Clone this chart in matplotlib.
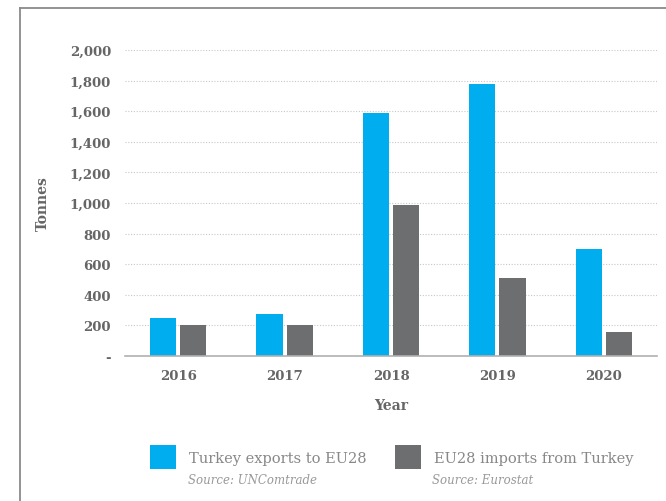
import numpy as np
import matplotlib
matplotlib.use('Agg')
import matplotlib.pyplot as plt
from matplotlib.lines import Line2D
from matplotlib.ticker import FuncFormatter

# Data
years = ['2016', '2017', '2018', '2019', '2020']
turkey_exports = [248, 275, 1590, 1780, 700]
eu_imports = [203, 203, 985, 510, 158]
series_names = ['Turkey exports to EU28', 'EU28 imports from Turkey']
sources = ['Source: UNComtrade', 'Source: Eurostat']

blue = '#00AEEF'
grey = '#6D6E70'
txt = '#666666'

plt.rcParams['font.family'] = ['DejaVu Serif']

fig = plt.figure(figsize=(6.66, 5.02), dpi=100)
ax = fig.add_axes([125/666, 1-357/502, 532/666, 306/502])

x = np.arange(len(years))
w = 0.245
b1 = ax.bar(x - 0.142, turkey_exports, w, color=blue)
b2 = ax.bar(x + 0.142, eu_imports, w, color=grey)

ax.set_xlim(-0.5, 4.5)
ax.set_ylim(0, 2000)
ax.set_yticks(range(0, 2001, 200))
ax.yaxis.set_major_formatter(FuncFormatter(lambda v, p: '-' if v == 0 else f'{int(v):,}'))
ax.set_xticks(x)
ax.set_xticklabels(years)
ax.grid(axis='y', linestyle=(0, (1, 1.5)), color='#c8c8c8', linewidth=0.8)
ax.set_axisbelow(True)
for s in ['top', 'right', 'left']:
    ax.spines[s].set_visible(False)
ax.spines['bottom'].set_color('#b0b0b0')
ax.spines['bottom'].set_linewidth(1.2)
ax.tick_params(axis='both', length=0, colors=txt, labelsize=9.5)
ax.tick_params(axis='y', pad=10)
ax.tick_params(axis='x', pad=9)
for lab in ax.get_xticklabels() + ax.get_yticklabels():
    lab.set_fontweight('bold')

ax.set_ylabel('Tonnes', color=txt, fontsize=10, fontweight='bold', labelpad=14)
ax.set_xlabel('Year', color=txt, fontsize=10, fontweight='bold', labelpad=12)

# frame around the figure
fig.add_artist(Line2D([20/666, 20/666], [0, 1-9/502], color='#8a8a8a', lw=1.3))
fig.add_artist(Line2D([20/666, 1], [1-9/502, 1-9/502], color='#8a8a8a', lw=1.3))

leg = fig.legend([b1, b2], series_names, loc='upper left',
                 bbox_to_anchor=(150/666, 1-446/502), ncol=2, frameon=False,
                 fontsize=10.5, handlelength=1.75, handleheight=2.2,
                 handletextpad=0.9, columnspacing=2.0, labelcolor='#888888',
                 borderpad=0, borderaxespad=0)
for t in leg.get_texts():
    t.set_fontweight('light')

fig.text(188/666, 1-481/502, sources[0], fontsize=8.5, style='italic',
         color='#999999', va='center')
fig.text(432/666, 1-481/502, sources[1], fontsize=8.5, style='italic',
         color='#999999', va='center')

fig.savefig('out.png', dpi=100)
